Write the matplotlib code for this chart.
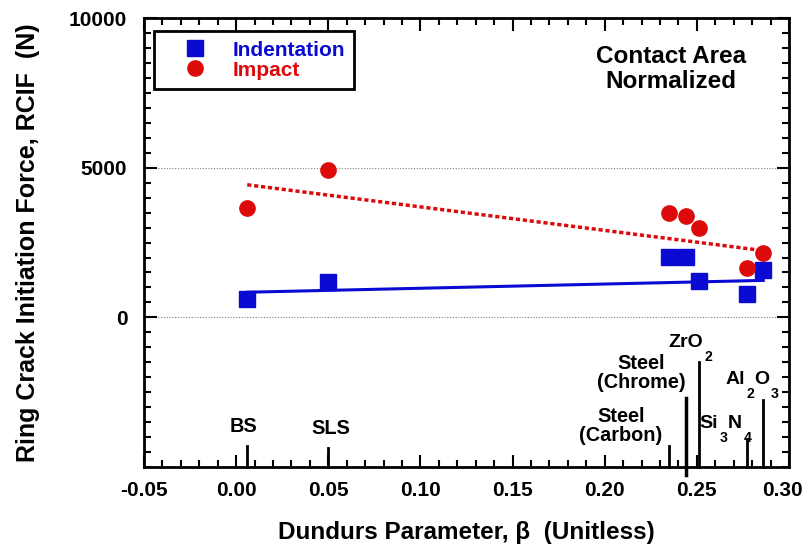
import numpy as np
import matplotlib
matplotlib.use('Agg')
import matplotlib.pyplot as plt
from matplotlib.ticker import MultipleLocator, FixedLocator

plt.rcParams['font.family'] = ['Liberation Sans', 'DejaVu Sans']
plt.rcParams['font.weight'] = 'bold'

# datos
materiales = ['BS', 'SLS', 'Steel\n(Carbon)', 'Steel\n(Chrome)', 'ZrO2', 'Si3N4', 'Al2O3']
beta = [0.006, 0.050, 0.235, 0.244, 0.251, 0.277, 0.286]
indentacion = [600, 1180, 2020, 2010, 1230, 790, 1580]
impacto = [3660, 4910, 3490, 3380, 2970, 1660, 2160]

# rectas de ajuste (extremos)
beta_ajuste = [0.006, 0.286]
indentacion_ajuste = [840, 1235]
impacto_ajuste = [4430, 2230]

# marcas verticales de cada material
marca_sup = [-4300, -4370, -4300, -2700, -1500, -4070, -2770]
marca_inf = [-5000, -5000, -5000, -5270, -5000, -5000, -5000]

# ticks del eje x
xticks = [-0.05, 0.00, 0.05, 0.10, 0.15, 0.20, 0.25, 0.30]

azul = '#0a0ad2'
rojo = '#dc0a0a'

fig = plt.figure(figsize=(8.06, 5.48), dpi=100)
ax = fig.add_axes([0.1787, 0.1478, 0.8003, 0.8192])
ax.set_xlim(-0.05, 0.30)
ax.set_ylim(-5000, 10000)

ax.axhline(5000, color='gray', lw=0.8, ls=(0, (1, 1.5)), zorder=1)
ax.axhline(0, color='gray', lw=0.8, ls=(0, (1, 1.5)), zorder=1)

ax.plot(beta_ajuste, indentacion_ajuste, color=azul, lw=2.2, zorder=2)
ax.plot(beta_ajuste, impacto_ajuste, color=rojo, lw=2.5, ls=(0, (1.2, 0.8)), zorder=2)

ax.plot(beta, indentacion, 's', color=azul, ms=11.5, mec=azul, ls='none', label='Indentation', zorder=3)
ax.plot(beta, impacto, 'o', color=rojo, ms=11, mec=rojo, ls='none', label='Impact', zorder=3)

for i, b in enumerate(beta):
    lw = 2.5 if i == 3 else 2.0
    ax.plot([b, b], [marca_inf[i], marca_sup[i]], color='black', lw=lw, clip_on=False, zorder=4)


def texto_con_subindices(x, y, texto, size=14):
    # los digitos van como subindice, separados y mas abajo
    piezas = []
    for ch in texto:
        sub = ch.isdigit()
        if piezas and piezas[-1][1] == sub:
            piezas[-1][0] += ch
        else:
            piezas.append([ch, sub])
    r = fig.canvas.get_renderer()
    dx = 0.0
    artistas = []
    for s, sub in piezas:
        fs = size * 0.72 if sub else size
        dy = -10.5 if sub else 0
        t = ax.annotate(s, (x, y), xytext=(dx + (1.2 if sub else 0), dy), textcoords='offset points',
                        ha='left', va='center', fontsize=fs, fontweight='bold')
        w = t.get_window_extent(r).width * 72 / fig.dpi
        dx += w + (1.2 if sub else 0)
        artistas.append(t)
    for t in artistas:
        ox, oy = t.xyann
        t.xyann = (ox - dx / 2, oy)


# posiciones de las etiquetas de material
pos_etiquetas = [(0.0037, -3630), (0.0515, -3700), (0.2088, -3630), (0.2200, -1870),
                 (0.2465, -830), (0.2655, -3530), (0.2800, -2070)]
for nombre, (px, py) in zip(materiales, pos_etiquetas):
    if any(c.isdigit() for c in nombre):
        texto_con_subindices(px, py, nombre, size=14)
    else:
        ax.text(px, py, nombre, ha='center', va='center', fontsize=14.3,
                fontweight='bold', linespacing=1.0)

ax.text(0.236, 8300, 'Contact Area\nNormalized', ha='center', va='center', fontsize=17.5,
        fontweight='bold', linespacing=1.1)

ax.set_xticks(xticks)
ax.xaxis.set_minor_locator(MultipleLocator(0.01))
ax.yaxis.set_major_locator(FixedLocator([0, 5000, 10000]))
ax.yaxis.set_minor_locator(MultipleLocator(500))
# la ultima etiqueta va aparte, un poco a la izquierda para que quepa
etiquetas_x = [f'{v:.2f}' for v in xticks]
ax.set_xticklabels(etiquetas_x[:-1] + [''])
ax.annotate(etiquetas_x[-1], xy=(xticks[-1], 0), xycoords=('data', 'axes fraction'),
            xytext=(-4.5, -10), textcoords='offset points', ha='center', va='top',
            fontsize=15, fontweight='bold')
ax.tick_params(which='both', direction='in', top=True, right=True, labelsize=15, width=1.5)
ax.tick_params(which='major', length=9)
ax.tick_params(axis='x', which='major', pad=10)
ax.tick_params(axis='y', which='major', pad=12)
ax.tick_params(which='minor', length=5)
for s in ax.spines.values():
    s.set_linewidth(2)

ax.set_xlabel('Dundurs Parameter, β  (Unitless)', fontsize=17.5, fontweight='bold', labelpad=15)
ax.set_ylabel('Ring Crack Initiation Force, RCIF  (N)', fontsize=18, fontweight='bold', labelpad=21)

leg = ax.legend(loc='upper left', bbox_to_anchor=(0.0095, 0.98), fontsize=15, fancybox=False,
                edgecolor='black', framealpha=1, handletextpad=0.3, borderpad=0.45,
                labelspacing=0.05, handlelength=3.0, borderaxespad=0.2)
leg.get_frame().set_linewidth(2)
for txt, c in zip(leg.get_texts(), [azul, rojo]):
    txt.set_color(c)
    txt.set_fontweight('bold')

fig.savefig('out.png', dpi=100)
